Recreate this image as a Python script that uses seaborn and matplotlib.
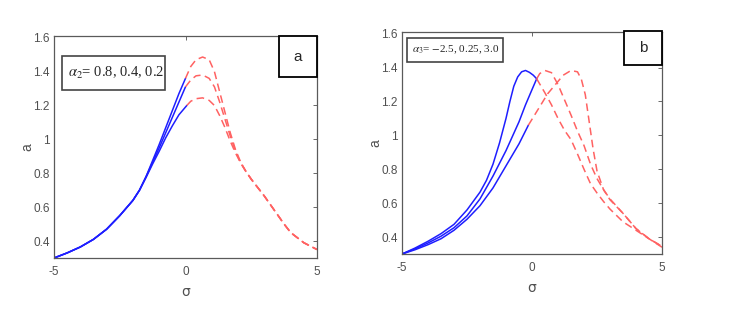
import matplotlib
matplotlib.use("Agg")
import matplotlib.pyplot as plt
import seaborn as sns
from matplotlib.patches import Rectangle

# panel a: alpha2 = 0.8, 0.4, 0.2 (blue solid sigma<0, red dashed sigma>0)
a_blue_sig = [[-5, -4.5, -4, -3.5, -3, -2.5, -2, -1.75, -1.5, -1.25, -1.0, -0.75, -0.5, -0.25, 0.0],
              [-5, -4.5, -4, -3.5, -3, -2.5, -2, -1.75, -1.5, -1.25, -1.0, -0.75, -0.5, -0.25, 0.0],
              [-5, -4.5, -4, -3.5, -3, -2.5, -2, -1.75, -1.5, -1.25, -1.0, -0.75, -0.5, -0.25, 0.05]]
a_blue_val = [[0.30, 0.33, 0.365, 0.41, 0.47, 0.55, 0.64, 0.70, 0.78, 0.875, 0.97, 1.07, 1.17, 1.27, 1.36],
              [0.30, 0.33, 0.365, 0.41, 0.47, 0.55, 0.64, 0.70, 0.78, 0.865, 0.95, 1.04, 1.13, 1.22, 1.31],
              [0.30, 0.33, 0.365, 0.41, 0.47, 0.55, 0.64, 0.70, 0.775, 0.855, 0.93, 1.01, 1.08, 1.145, 1.20]]
a_red_sig = [[0.0, 0.2, 0.4, 0.65, 0.9, 1.1, 1.3, 1.5, 1.7, 1.9, 2.1, 2.3, 2.5, 2.75, 3.0, 3.25, 3.5, 3.75, 4.0, 4.5, 5.0],
             [0.0, 0.2, 0.4, 0.65, 0.9, 1.1, 1.3, 1.5, 1.7, 1.9, 2.1, 2.3, 2.5, 2.75, 3.0, 3.25, 3.5, 3.75, 4.0, 4.5, 5.0],
             [0.05, 0.2, 0.4, 0.65, 0.9, 1.1, 1.3, 1.5, 1.7, 1.9, 2.1, 2.3, 2.5, 2.75, 3.0, 3.25, 3.5, 3.75, 4.0, 4.5, 5.0]]
a_red_val = [[1.36, 1.43, 1.47, 1.486, 1.47, 1.40, 1.28, 1.16, 1.04, 0.94, 0.865, 0.81, 0.765, 0.715, 0.665, 0.61, 0.555, 0.50, 0.45, 0.39, 0.35],
             [1.31, 1.35, 1.375, 1.38, 1.36, 1.31, 1.22, 1.12, 1.02, 0.93, 0.86, 0.81, 0.765, 0.715, 0.665, 0.61, 0.555, 0.50, 0.45, 0.39, 0.35],
             [1.20, 1.225, 1.24, 1.245, 1.23, 1.20, 1.14, 1.07, 0.99, 0.92, 0.86, 0.81, 0.765, 0.715, 0.665, 0.61, 0.555, 0.50, 0.45, 0.39, 0.35]]

# panel b: alpha3 = -2.5, 0.25, 3.0
b_blue_sig = [[-5, -4.5, -4, -3.5, -3, -2.5, -2, -1.75, -1.5, -1.25, -1.0, -0.85, -0.7, -0.55, -0.4, -0.25, -0.1, 0.05, 0.18],
              [-5, -4.5, -4, -3.5, -3, -2.5, -2, -1.5, -1.0, -0.5, -0.25, 0.0, 0.18],
              [-5, -4.5, -4, -3.5, -3, -2.5, -2, -1.5, -1.0, -0.5, -0.14]]
b_blue_val = [[0.30, 0.335, 0.375, 0.42, 0.475, 0.56, 0.665, 0.735, 0.83, 0.955, 1.10, 1.20, 1.29, 1.345, 1.375, 1.383, 1.372, 1.355, 1.334],
              [0.30, 0.33, 0.365, 0.405, 0.455, 0.525, 0.625, 0.76, 0.91, 1.08, 1.18, 1.27, 1.334],
              [0.30, 0.325, 0.355, 0.39, 0.44, 0.505, 0.585, 0.69, 0.82, 0.95, 1.06]]
b_red_sig = [[0.18, 0.5, 0.75, 1.0, 1.25, 1.5, 1.75, 2.0, 2.25, 2.5, 2.75, 3.0, 3.5, 4.0, 4.5, 5.0],
             [0.18, 0.3, 0.5, 0.75, 1.0, 1.25, 1.5, 1.75, 2.0, 2.25, 2.5, 2.75, 3.0, 3.5, 4.0, 4.5, 5.0],
             [-0.14, 0.1, 0.3, 0.6, 0.9, 1.2, 1.5, 1.75, 1.9, 2.05, 2.2, 2.35, 2.5, 2.75, 3.0, 3.5, 4.0, 4.5, 5.0]]
b_red_val = [[1.334, 1.25, 1.18, 1.10, 1.03, 0.975, 0.89, 0.80, 0.715, 0.66, 0.61, 0.565, 0.49, 0.44, 0.39, 0.34],
             [1.334, 1.365, 1.383, 1.37, 1.30, 1.21, 1.12, 1.025, 0.94, 0.83, 0.745, 0.68, 0.625, 0.54, 0.45, 0.39, 0.345],
             [1.06, 1.12, 1.17, 1.245, 1.30, 1.355, 1.383, 1.375, 1.33, 1.24, 1.08, 0.92, 0.79, 0.68, 0.62, 0.54, 0.45, 0.39, 0.345]]

y_ticks = [0.4, 0.6, 0.8, 1.0, 1.2, 1.4, 1.6]
y_labels = ['0.4', '0.6', '0.8', '1', '1.2', '1.4', '1.6']
x_ticks = [-5, 0, 5]

sns.set_style("white")
plt.rcParams['font.family'] = ['Liberation Sans Narrow', 'Liberation Sans', 'DejaVu Sans']
plt.rcParams['mathtext.fontset'] = 'stix'

fig = plt.figure(figsize=(7.55, 3.32), dpi=100)
ax_a = fig.add_axes([54 / 755, 1 - 258 / 332, 263 / 755, 222 / 332])
ax_b = fig.add_axes([402 / 755, 1 - 254 / 332, 260 / 755, 222 / 332])

blue = '#1e1eff'
red = '#ff6262'


def draw(ax, bs, bv, rs, rv):
    for s, v in zip(bs, bv):
        sns.lineplot(x=s, y=v, ax=ax, color=blue, lw=1.1, sort=False, estimator=None)
    for s, v in zip(rs, rv):
        sns.lineplot(x=s, y=v, ax=ax, color=red, lw=1.1, sort=False, estimator=None,
                     dashes=False, linestyle=(0, (5, 3)))
    ax.set_xlim(-5, 5)
    ax.set_ylim(0.3, 1.61)
    ax.set_xticks(x_ticks)
    ax.set_xticklabels(['-5', '0', '5'])
    ax.set_yticks(y_ticks)
    ax.set_yticklabels(y_labels)
    ax.tick_params(direction='in', length=3, width=0.6, colors='#505050', labelsize=8.5,
                   top=True, right=True)
    ax.tick_params(axis='x', pad=6)
    ax.tick_params(axis='y', pad=3)
    for sp in ax.spines.values():
        sp.set_color('#5a5a5a')
        sp.set_linewidth(0.9)
    ax.set_xlabel('σ', color='#505050', fontsize=10, labelpad=5, family='DejaVu Sans')
    ax.set_ylabel('a', color='#505050', fontsize=10, labelpad=-1)


draw(ax_a, a_blue_sig, a_blue_val, a_red_sig, a_red_val)
draw(ax_b, b_blue_sig, b_blue_val, b_red_sig, b_red_val)

# parameter boxes
ax_a.add_patch(Rectangle((0.03, 0.757), 0.392, 0.153, transform=ax_a.transAxes,
                         fill=True, facecolor='white', edgecolor='#444444', lw=1.2, zorder=5))
ax_a.text(0.055, 0.833, r'$\alpha_2$= 0.8, 0.4, 0.2', transform=ax_a.transAxes,
          family='Liberation Serif', fontsize=10.5, va='center', ha='left', zorder=6)
ax_b.add_patch(Rectangle((0.019, 0.865), 0.369, 0.108, transform=ax_b.transAxes,
                         fill=True, facecolor='white', edgecolor='#444444', lw=1.2, zorder=5))
ax_b.text(0.038, 0.919, r'$\alpha_3$= $-$2.5, 0.25, 3.0', transform=ax_b.transAxes,
          family='Liberation Serif', fontsize=8, va='center', ha='left', zorder=6)

# panel letters
ax_a.add_patch(Rectangle((0.855, 0.815), 0.145, 0.185, transform=ax_a.transAxes,
                         fill=True, facecolor='white', edgecolor='black', lw=1.3, zorder=5, clip_on=False))
ax_a.text(0.9275, 0.9075, 'a', transform=ax_a.transAxes, fontsize=11, family='Liberation Sans',
          ha='center', va='center', zorder=6)
ax_b.add_patch(Rectangle((0.854, 0.85), 0.146, 0.155, transform=ax_b.transAxes,
                         fill=True, facecolor='white', edgecolor='black', lw=1.3, zorder=5, clip_on=False))
ax_b.text(0.927, 0.927, 'b', transform=ax_b.transAxes, fontsize=11, family='Liberation Sans',
          ha='center', va='center', zorder=6)

fig.savefig('out.png', dpi=100)
